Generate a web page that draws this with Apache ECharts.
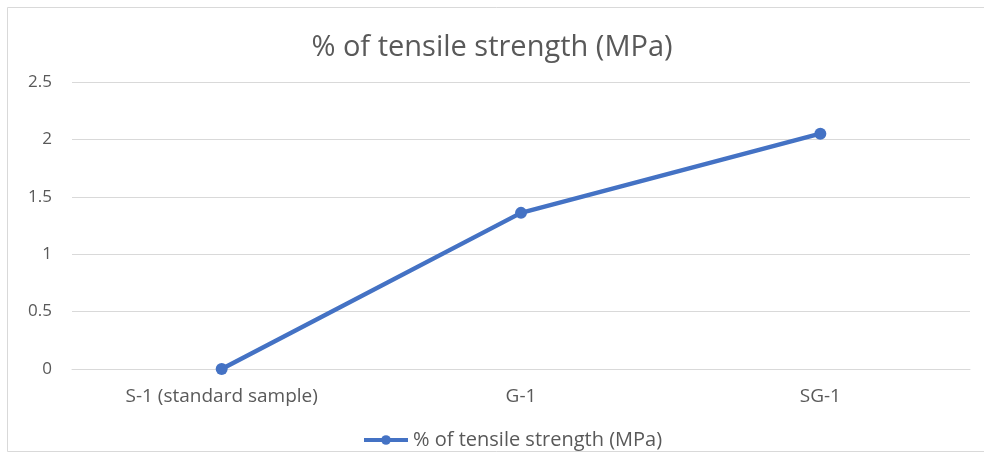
<!DOCTYPE html>
<html>
<head>
<meta charset="utf-8">
<script src="https://cdn.jsdelivr.net/npm/echarts@6/dist/echarts.min.js"></script>
<style>html,body{margin:0;padding:0;background:#fff;}#c{width:984px;height:459px;}</style>
</head>
<body>
<div id="c"></div>
<script>
const categories = ['S-1 (standard sample)', 'G-1', 'SG-1'];
const seriesName = '% of tensile strength (MPa)';
const values = [0, 1.36, 2.05];
const yTicks = [0, 0.5, 1, 1.5, 2, 2.5];

const chart = echarts.init(document.getElementById('c'));
const font = '"Open Sans", "Noto Sans", sans-serif';
chart.setOption({
  animation: false,
  backgroundColor: '#fff',
  title: {
    text: '% of tensile strength (MPa)',
    left: 'center',
    top: 28,
    textStyle: { fontFamily: font, fontSize: 29, fontWeight: 'normal', color: '#595959' }
  },
  graphic: [{
    type: 'rect',
    shape: { x: 7.5, y: 7.5, width: 990, height: 444 },
    style: { fill: 'none', stroke: '#d9d9d9', lineWidth: 1 },
    silent: true
  }],
  legend: {
    top: 425,
    left: 357,
    itemWidth: 44,
    itemHeight: 12,
    itemGap: 6,
    lineStyle: { width: 4 },
    textStyle: { fontFamily: font, fontSize: 20, color: '#595959' },
    data: [seriesName]
  },
  grid: { left: 72, right: 14, top: 82, bottom: 90, containLabel: false },
  xAxis: {
    type: 'category',
    data: categories,
    boundaryGap: true,
    axisLine: { show: true, lineStyle: { color: '#d9d9d9', width: 1 } },
    axisTick: { show: false },
    axisLabel: { fontFamily: font, fontSize: 19, color: '#595959', margin: 18 }
  },
  yAxis: {
    type: 'value',
    min: yTicks[0],
    max: yTicks[yTicks.length - 1],
    interval: 0.5,
    axisLine: { show: false },
    axisTick: { show: false },
    splitLine: { lineStyle: { color: '#d9d9d9', width: 1 } },
    axisLabel: { fontFamily: font, fontSize: 17, color: '#595959', margin: 20 }
  },
  series: [{
    name: seriesName,
    type: 'line',
    data: values,
    symbol: 'circle',
    symbolSize: 12,
    lineStyle: { color: '#4472C4', width: 4.5 },
    itemStyle: { color: '#4472C4' }
  }]
});
</script>
</body>
</html>
